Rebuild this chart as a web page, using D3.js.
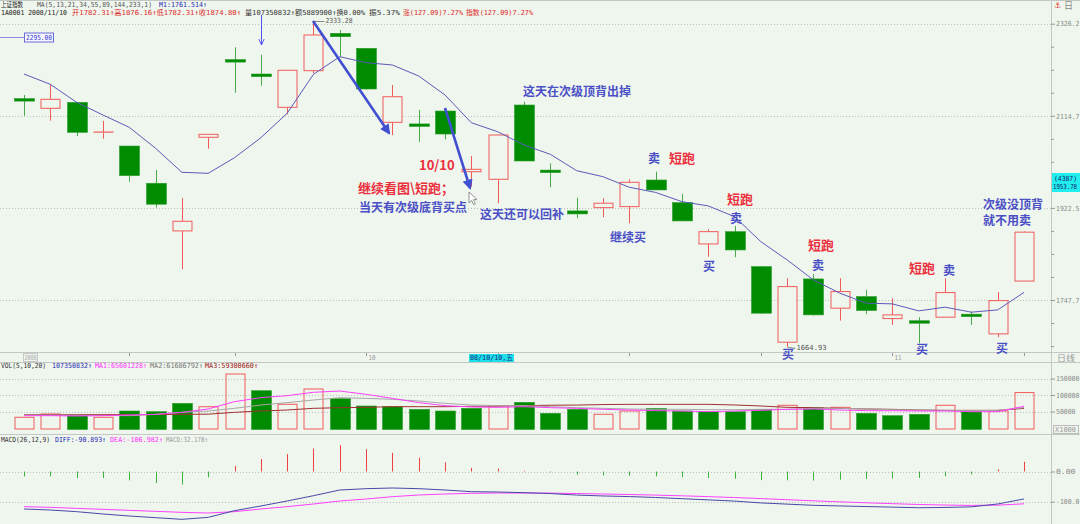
<!DOCTYPE html>
<html>
<head>
<meta charset="utf-8">
<script src="https://cdn.jsdelivr.net/npm/d3@7"></script>
<style>
  body { margin: 0; background: #eff6ee; }
  svg { display: block; }
</style>
</head>
<body>
<script>
// ---- data ----
const openP  = [2152.5, 2131.2, 2144.4, 2078.5, 2049.6, 1972.1, 1877.2, 2068.2, 2240.4, 2208.2, 2133.4, 2215.8, 2303.2, 2267.7, 2100.5, 2094.6, 2125.2, 1995.9, 1980.3, 2138.5,
                1997.3, 1916.5, 1923.0, 1925.0, 1978.8, 1933.0, 1852.1, 1875.8, 1809.1, 1673.0, 1786.2, 1733.0, 1753.9, 1714.4, 1708.8, 1716.9, 1720.4, 1687.5, 1782.31];
const highP  = [2160.7, 2184.8, 2145.0, 2103.3, 2049.6, 1999.4, 1941.8, 2074.6, 2270.1, 2252.7, 2216.7, 2333.28, 2311.1, 2268.5, 2183.2, 2127.5, 2131.2, 2028.6, 2073.1, 2145.8,
                2013.3, 1943.0, 1941.8, 1980.3, 1995.9, 1950.4, 1880.5, 1886.9, 1810.0, 1787.5, 1795.5, 1787.5, 1766.1, 1751.0, 1716.9, 1787.5, 1726.9, 1761.9, 1876.16];
const lowP   = [2114.9, 2104.0, 2070.9, 2065.2, 1975.4, 1923.0, 1804.2, 2043.9, 2165.9, 2181.6, 2118.0, 2209.8, 2248.1, 2172.5, 2073.1, 2058.8, 2063.9, 1965.2, 1931.8, 2018.1,
                1964.0, 1902.0, 1904.0, 1892.2, 1958.5, 1896.7, 1827.9, 1826.8, 1723.0, 1664.93, 1720.0, 1710.9, 1722.2, 1703.3, 1671.3, 1716.9, 1703.3, 1681.7, 1782.31];
const closeP = [2147.3, 2151.1, 2078.9, 2079.3, 1987.7, 1929.8, 1896.1, 2074.6, 2236.5, 2202.1, 2216.7, 2299.2, 2295.1, 2174.2, 2156.9, 2094.0, 2075.2, 2000.8, 2073.1, 2018.1,
                1995.9, 1910.5, 1931.8, 1974.1, 1958.5, 1896.7, 1875.8, 1840.6, 1724.0, 1772.1, 1721.0, 1763.0, 1728.7, 1721.0, 1708.0, 1761.2, 1719.7, 1746.6, 1874.80];
const maLine = [2208.2, 2184.8, 2144.4, 2116.5, 2089.7, 2044.8, 1994.6, 1992.5, 2025.0, 2067.3, 2120.3, 2207.5, 2248.1, 2234.2, 2228.9, 2203.6, 2160.7, 2099.6, 2080.2, 2051.8,
                2032.1, 1998.0, 1985.6, 1964.0, 1953.5, 1935.0, 1926.4, 1905.2, 1856.5, 1821.7, 1784.4, 1760.1, 1742.0, 1740.7, 1728.1, 1734.8, 1725.8, 1729.9, 1761.5];

// volume in thousands of shares
const vol    = [32400, 42400, 38500, 32400, 51500, 49400, 74800, 64500, 163600, 113000, 71800, 118200, 88800, 66700, 64500, 56700, 51500, 59700, 66700, 77900,
                44500, 56700, 41500, 51500, 59700, 51500, 49400, 49400, 56700, 68800, 61500, 62700, 44500, 37300, 41500, 68800, 49400, 51500, 107351];
const volMa1 = [37400, 37400, 36400, 37400, 39400, 41400, 47500, 57600, 79800, 91900, 98000, 108100, 112100, 102000, 89900, 76800, 67700, 63600, 62600, 64600,
                61600, 59600, 56600, 54500, 52500, 51500, 49500, 51500, 53500, 56600, 57600, 54500, 52500, 52500, 51500, 51500, 49500, 49500, 65601];
const volMa2 = [39400, 39000, 38500, 38000, 37400, 41400, 47500, 51500, 59600, 69700, 76800, 84800, 91900, 89900, 86900, 81800, 74700, 69700, 67700, 67700,
                64600, 61600, 59600, 57600, 56600, 56600, 55500, 55500, 56600, 56600, 59600, 59600, 57600, 55500, 54500, 53500, 52500, 53500, 61687];
const volMa3 = [40400, 40400, 40400, 40400, 40400, 40900, 41400, 41900, 47500, 51500, 54500, 59600, 61600, 62600, 64600, 64600, 64600, 65600, 66700, 67700,
                69000, 69500, 71000, 71700, 71700, 71700, 71700, 69700, 66700, 62600, 61600, 59600, 57600, 56600, 54500, 53500, 53500, 53500, 59301];

const diff = [-124.2, -127.5, -133.0, -140.7, -147.4, -152.9, -158.4, -151.8, -129.8, -114.2, -97.7, -80.1, -61.3, -56.9, -54.6, -56.9, -61.3, -66.8, -67.9, -70.1,
              -73, -78, -81, -83, -86, -90, -94, -98, -104, -108, -112, -114, -116, -118, -120, -119, -117, -107.6, -90.893];
const dea  = [-116.4, -118.7, -122.0, -125.3, -128.6, -131.9, -135.2, -137.4, -133.0, -124.2, -116.4, -107.6, -97.7, -91.1, -83.4, -77.8, -74.5, -72.3, -71.2, -71.2,
              -71.6, -72.9, -74.5, -76.2, -78.2, -80.5, -83.2, -86.2, -89.7, -93.4, -97.1, -100.5, -103.6, -106.5, -109.2, -111.1, -112.3, -111.4, -106.982];
const macdHist = [-16.3, -16.3, -21.7, -21.7, -29.3, -38.0, -43.4, -19.5, 18.5, 41.3, 57.5, 76.0, 86.9, 73.8, 61.9, 45.6, 30.4, 12.0, 9.8, 2.2,
                  -2.9, -10.3, -13.0, -13.6, -15.7, -19.0, -21.6, -23.7, -28.5, -29.2, -29.8, -27.0, -24.8, -23.0, -21.6, -15.7, -9.4, 7.5, 32.178];

const priceTicks = [2326.2, 2114.7, 1922.5, 1747.7];
const volTicks = [50000, 100000, 150000];
const macdTicks = [0, -100];
const dateTicks = [4, 8, 13, 18, 23, 28, 33, 38];   // candle index of each tick on the date strip
const monthLabels = [[13, '10'], [33, '11']];

// ---- layout ----
const width = 1080, height = 524;
const axisX = 1051;
const bg = '#eff6ee';
const red = '#f25a5a', green = '#008c00', greenWick = '#48aa48';
const annBlue = '#4b4fc6', annRed = '#ec2f3c';
const cjk = '"Noto Sans CJK SC", "Noto Sans", sans-serif';
const mono = '"DejaVu Sans Mono", "Liberation Mono", "Noto Sans CJK SC", monospace';

const svg = d3.select('body').append('svg')
  .attr('width', width)
  .attr('height', height);

svg.append('rect').attr('width', width).attr('height', height).attr('fill', bg);

const n = closeP.length;
const x = d3.scalePoint().domain(d3.range(n)).range([24, 1024]);
const cx = i => Math.round(x(i)) + 0.5;
const yP = d3.scaleLog().domain([2326.2, 1747.7]).range([23.7, 300]);
const yV = d3.scaleLinear().domain([0, 150000]).range([428, 378.5]);
const yM = d3.scaleLinear().domain([0, -100]).range([471.5, 501.7]);

// frame lines
const frame = svg.append('g').attr('stroke', '#c4c8c4').attr('stroke-width', 1);
[[0, 0.5, width, 0.5], [0, 352.5, width, 352.5], [0, 362.5, width, 362.5], [0, 434.5, width, 434.5],
 [axisX + 0.5, 0, axisX + 0.5, height]].forEach(d => {
  frame.append('line').attr('x1', d[0]).attr('y1', d[1]).attr('x2', d[2]).attr('y2', d[3]);
});

// small text helper, widths matched with textLength
function label(g, x0, y0, txt, color, size, len, family) {
  const t = g.append('text')
    .attr('x', x0).attr('y', y0)
    .attr('dominant-baseline', 'central')
    .attr('fill', color)
    .style('font-family', family || mono)
    .style('font-size', size + 'px')
    .text(txt);
  if (len) t.attr('textLength', len).attr('lengthAdjust', 'spacingAndGlyphs');
  return t;
}

// ---- headers ----
const hdr = svg.append('g');
[[1, 5, '上证指数', '#222', 22],
 [37, 5, 'MA(5,13,21,34,55,89,144,233,1)', '#555', 115],
 [159, 5, 'M1:1761.514↑', '#2a2ab4', 48],
 [1, 13, '1A0001 2008/11/10', '#222', 66],
 [72, 13, '开1782.31↑高1876.16↑低1782.31↑收1874.80↑', '#e02828', 169],
 [245, 13, '量107350832↑额5889900↑换0.00%', '#333', 120],
 [369, 13, '振5.37%', '#333', 31],
 [403, 13, '涨(127.09)7.27%', '#e02828', 60],
 [466, 13, '指数(127.09)7.27%', '#e02828', 67],
 [1, 366, 'VOL(5,10,20)', '#333', 45],
 [52, 366, '107350832↑', '#2a2ab4', 40],
 [95, 366, 'MA1:65601228↑', '#ff30ff', 52],
 [150, 366, 'MA2:61686792↑', '#777', 53],
 [205, 366, 'MA3:59300660↑', '#a02020', 53],
 [1, 440, 'MACD(26,12,9)', '#333', 49],
 [55, 440, 'DIFF:-90.893↑', '#2a2ab4', 51],
 [110, 440, 'DEA:-106.982↑', '#ff30ff', 53],
 [166, 440, 'MACD:32.178↑', '#999', 42]
].forEach(d => label(hdr, d[0], d[1], d[2], d[3], 7, d[4]));

// ---- price panel ----
const grid = svg.append('g').attr('stroke', '#b9c2b9').attr('stroke-dasharray', '1,2');
priceTicks.forEach(v => grid.append('line').attr('x1', 0).attr('x2', axisX).attr('y1', Math.round(yP(v)) + 0.5).attr('y2', Math.round(yP(v)) + 0.5));
volTicks.forEach(v => grid.append('line').attr('x1', 0).attr('x2', axisX).attr('y1', Math.round(yV(v)) + 0.5).attr('y2', Math.round(yV(v)) + 0.5));
macdTicks.forEach(v => grid.append('line').attr('x1', 0).attr('x2', axisX).attr('y1', Math.round(yM(v)) + 0.5).attr('y2', Math.round(yM(v)) + 0.5));

// minor ticks on the log axis, 4 steps between the 10% levels
let minor = [];
for (let k = 0; k < priceTicks.length; k++) {
  const a = priceTicks[k];
  const b = k < priceTicks.length - 1 ? priceTicks[k + 1] : a / 1.1;
  for (let s = 1; s < 4; s++) minor.push(a * Math.pow(b / a, s / 4));
}
minor = minor.filter(v => yP(v) < 350);

// axis styling; labels squeezed so they end inside the window
const styleAxis = g => {
  g.select('.domain').remove();
  g.selectAll('line').attr('stroke', '#999');
  g.selectAll('text')
    .attr('fill', '#8a8a8a')
    .style('font-family', mono)
    .style('font-size', '7px')
    .each(function () {
      const s = d3.select(this).text();
      if (s.length) d3.select(this).attr('textLength', s.length * 3.9).attr('lengthAdjust', 'spacingAndGlyphs');
    });
};

svg.append('g').attr('transform', `translate(${axisX},0)`)
  .call(d3.axisRight(yP).tickValues(minor).tickSize(3).tickFormat(''))
  .call(styleAxis);
svg.append('g').attr('transform', `translate(${axisX},0)`)
  .call(d3.axisRight(yP).tickValues(priceTicks).tickSize(4).tickPadding(1).tickFormat(d => d.toFixed(1)))
  .call(styleAxis);

// candles
const candles = d3.range(n).map(i => ({
  i, o: openP[i], h: highP[i], l: lowP[i], c: closeP[i], up: closeP[i] >= openP[i]
}));

const cg = svg.append('g');
candles.forEach(d => {
  const xc = cx(d.i);
  const yo = yP(d.o), yc = yP(d.c), yh = yP(d.h), yl = yP(d.l);
  let top = Math.min(yo, yc), bot = Math.max(yo, yc);
  if (d.up) {
    if (bot - top < 1) { bot = top + 1; }
    cg.append('line').attr('x1', xc).attr('x2', xc).attr('y1', yh).attr('y2', top).attr('stroke', red);
    cg.append('line').attr('x1', xc).attr('x2', xc).attr('y1', bot).attr('y2', yl).attr('stroke', red);
    if (bot - top <= 1.2) {
      cg.append('line').attr('x1', xc - 10).attr('x2', xc + 10).attr('y1', top).attr('y2', top).attr('stroke', red).attr('stroke-width', 1.2);
    } else {
      cg.append('rect').attr('x', xc - 9.5).attr('y', top).attr('width', 19).attr('height', bot - top)
        .attr('fill', bg).attr('stroke', red);
    }
  } else {
    if (bot - top < 2.5) { const m = (top + bot) / 2; top = m - 1.25; bot = m + 1.25; }
    cg.append('line').attr('x1', xc).attr('x2', xc).attr('y1', yh).attr('y2', yl).attr('stroke', greenWick);
    cg.append('rect').attr('x', xc - 10).attr('y', top).attr('width', 20).attr('height', bot - top)
      .attr('fill', green).attr('stroke', '#2c9c2c').attr('stroke-width', 0.6);
  }
});

// moving average line
svg.append('path')
  .datum(maLine)
  .attr('fill', 'none')
  .attr('stroke', '#5a5ab8')
  .attr('stroke-width', 1)
  .attr('d', d3.line().x((d, i) => x(i)).y(d => yP(d)));

// marker labels for high / low
const mk = svg.append('g');
const hiI = d3.maxIndex(highP), loI = d3.minIndex(lowP);
mk.append('line').attr('x1', cx(hiI)).attr('x2', cx(hiI) + 11).attr('y1', Math.round(yP(highP[hiI])) + 0.5).attr('y2', Math.round(yP(highP[hiI])) + 0.5).attr('stroke', '#888');
label(mk, cx(hiI) + 12, yP(highP[hiI]) + 0.5, highP[hiI].toFixed(2), '#555', 7, 27);
mk.append('line').attr('x1', cx(loI)).attr('x2', cx(loI) + 8).attr('y1', yP(lowP[loI]) + 0.5).attr('y2', yP(lowP[loI]) + 1.5).attr('stroke', '#888');
label(mk, cx(loI) + 9, yP(lowP[loI]) + 1.5, lowP[loI].toFixed(2), '#555', 7, 30);

// 2295.00 price flag on the left
const flagY = Math.round(yP(2295.0)) + 0.5;
mk.append('line').attr('x1', 0).attr('x2', 24).attr('y1', flagY).attr('y2', flagY).attr('stroke', '#8c8ce0');
mk.append('rect').attr('x', 24.5).attr('y', flagY - 4.5).attr('width', 29).attr('height', 9).attr('fill', '#f6f8ff').attr('stroke', '#6a6ad8');
label(mk, 26, flagY, '2295.00', '#3a3ad0', 7, 26);

// current price box on the axis
svg.append('rect').attr('x', axisX + 1).attr('y', 173).attr('width', 28).attr('height', 19).attr('fill', '#22eeee');
label(svg, axisX + 3, 178.5, '(4387)', '#102070', 7, 23);
label(svg, axisX + 2, 187, '1953.78', '#102070', 7, 24);

// top-right icons
svg.append('text').attr('x', 1054).attr('y', 8).attr('fill', '#e03030').style('font-size', '8px').style('font-family', '"DejaVu Sans"').text('⚓');
svg.append('text').attr('x', 1064).attr('y', 9).attr('fill', '#888').style('font-size', '9px').style('font-family', cjk).text('日');

// ---- date strip ----
const ds = svg.append('g');
dateTicks.forEach(i => ds.append('line').attr('x1', cx(i)).attr('x2', cx(i)).attr('y1', 353).attr('y2', 356).attr('stroke', '#999'));
ds.append('rect').attr('x', 23.5).attr('y', 353.5).attr('width', 14).attr('height', 8).attr('fill', 'none').attr('stroke', '#c8c8c8');
label(ds, 24.5, 357.5, '2008', '#aaa', 7, 12);
monthLabels.forEach(m => label(ds, cx(m[0]) + 2, 357.5, m[1], '#999', 7, 7));
ds.append('rect').attr('x', 469).attr('y', 354).attr('width', 45).attr('height', 8).attr('fill', '#1ee0ea');
label(ds, 470, 358, '08/10/10,五', '#1a2a80', 7, 43);
label(ds, 1057, 357.5, '日线', '#999', 8, 18, cjk);

// ---- volume panel ----
const vg = svg.append('g');
candles.forEach(d => {
  const rise = d.i === 0 ? true : closeP[d.i] >= closeP[d.i - 1];
  const xc = cx(d.i);
  const top = yV(vol[d.i]);
  if (rise) {
    vg.append('rect').attr('x', xc - 9.5).attr('y', top).attr('width', 19).attr('height', 429 - top)
      .attr('fill', 'none').attr('stroke', red);
  } else {
    vg.append('rect').attr('x', xc - 10).attr('y', top).attr('width', 20).attr('height', 429.5 - top)
      .attr('fill', green).attr('stroke', '#2c9c2c').attr('stroke-width', 0.6);
  }
});
[[volMa3, '#a03030'], [volMa2, '#a8a8a8'], [volMa1, '#ff40ff']].forEach(s => {
  svg.append('path').datum(s[0]).attr('fill', 'none').attr('stroke', s[1]).attr('stroke-width', 1)
    .attr('d', d3.line().x((d, i) => x(i)).y(d => yV(d)));
});
svg.append('g').attr('transform', `translate(${axisX},0)`)
  .call(d3.axisRight(yV).tickValues(volTicks).tickSize(4).tickPadding(1).tickFormat(d3.format('d')))
  .call(styleAxis);
svg.append('rect').attr('x', 1053.5).attr('y', 425.5).attr('width', 25).attr('height', 8).attr('fill', 'none').attr('stroke', '#bbb');
label(svg, 1055, 429.5, 'X1000', '#999', 7, 21);

// ---- MACD panel ----
const mg = svg.append('g');
macdHist.forEach((v, i) => {
  mg.append('line')
    .attr('x1', cx(i)).attr('x2', cx(i))
    .attr('y1', yM(0)).attr('y2', yM(v))
    .attr('stroke', v >= 0 ? '#ee4040' : '#3cb43c')
    .attr('stroke-width', 1);
});
[[dea, '#ff40ff'], [diff, '#4848a8']].forEach(s => {
  svg.append('path').datum(s[0]).attr('fill', 'none').attr('stroke', s[1]).attr('stroke-width', 1)
    .attr('d', d3.line().x((d, i) => x(i)).y(d => yM(d)));
});
svg.append('g').attr('transform', `translate(${axisX},0)`)
  .call(d3.axisRight(yM).tickValues(macdTicks).tickSize(4).tickPadding(1).tickFormat(d => d === 0 ? ' 0.00' : '-100.0'))
  .call(styleAxis);

// ---- annotations ----
const defs = svg.append('defs');
defs.append('marker').attr('id', 'headFill').attr('viewBox', '0 0 10 10').attr('refX', 8).attr('refY', 5)
  .attr('markerWidth', 4).attr('markerHeight', 4).attr('orient', 'auto')
  .append('path').attr('d', 'M0,0 L10,5 L0,10 Z').attr('fill', '#4050d0');
defs.append('marker').attr('id', 'headOpen').attr('viewBox', '0 0 10 10').attr('refX', 9).attr('refY', 5)
  .attr('markerWidth', 7).attr('markerHeight', 7).attr('orient', 'auto')
  .append('path').attr('d', 'M0,1 L9,5 L0,9').attr('fill', 'none').attr('stroke', '#5050f0').attr('stroke-width', 1.3);

const ann = svg.append('g');
ann.append('line').attr('x1', 261.5).attr('y1', 15).attr('x2', 261.5).attr('y2', 45)
  .attr('stroke', '#5050f0').attr('stroke-width', 1).attr('marker-end', 'url(#headOpen)');
ann.append('line').attr('x1', 313).attr('y1', 21).attr('x2', 389).attr('y2', 133)
  .attr('stroke', '#4050d0').attr('stroke-width', 2.6).attr('marker-end', 'url(#headFill)');
ann.append('line').attr('x1', 445).attr('y1', 108).attr('x2', 470).attr('y2', 188)
  .attr('stroke', '#4050d0').attr('stroke-width', 2.6).attr('marker-end', 'url(#headFill)');

// mouse pointer
ann.append('path').attr('transform', 'translate(469,192)')
  .attr('d', 'M0,0 L0,11 L2.6,8.4 L4.6,12.6 L6.4,11.8 L4.4,7.6 L8,7.6 Z')
  .attr('fill', '#fff').attr('stroke', '#777').attr('stroke-width', 0.8);

const notes = [
  [523, 90, '这天在次级顶背出掉', annBlue, 12],
  [419, 164, '10/10', annRed, 13],
  [358, 187, '继续看图\\短跑；', annRed, 13],
  [359, 206, '当天有次级底背买点', annBlue, 12],
  [480, 213, '这天还可以回补', annBlue, 12],
  [610, 236, '继续买', annBlue, 12],
  [648, 157, '卖', annBlue, 12],
  [669, 157, '短跑', annRed, 13],
  [727, 198, '短跑', annRed, 13],
  [730, 217, '卖', annBlue, 12],
  [703, 265, '买', annBlue, 12],
  [808, 244, '短跑', annRed, 13],
  [812, 264, '卖', annBlue, 12],
  [782, 353, '买', annBlue, 12],
  [909, 267, '短跑', annRed, 13],
  [943, 269, '卖', annBlue, 12],
  [916, 348, '买', annBlue, 12],
  [996, 347, '买', annBlue, 12],
  [983, 203, '次级没顶背', annBlue, 12],
  [983, 219, '就不用卖', annBlue, 12]
];
notes.forEach(d => {
  ann.append('text')
    .attr('x', d[0]).attr('y', d[1])
    .attr('dominant-baseline', 'central')
    .attr('fill', d[3])
    .style('font-family', cjk)
    .style('font-weight', 700)
    .style('font-size', d[4] + 'px')
    .text(d[2]);
});
</script>
</body>
</html>
